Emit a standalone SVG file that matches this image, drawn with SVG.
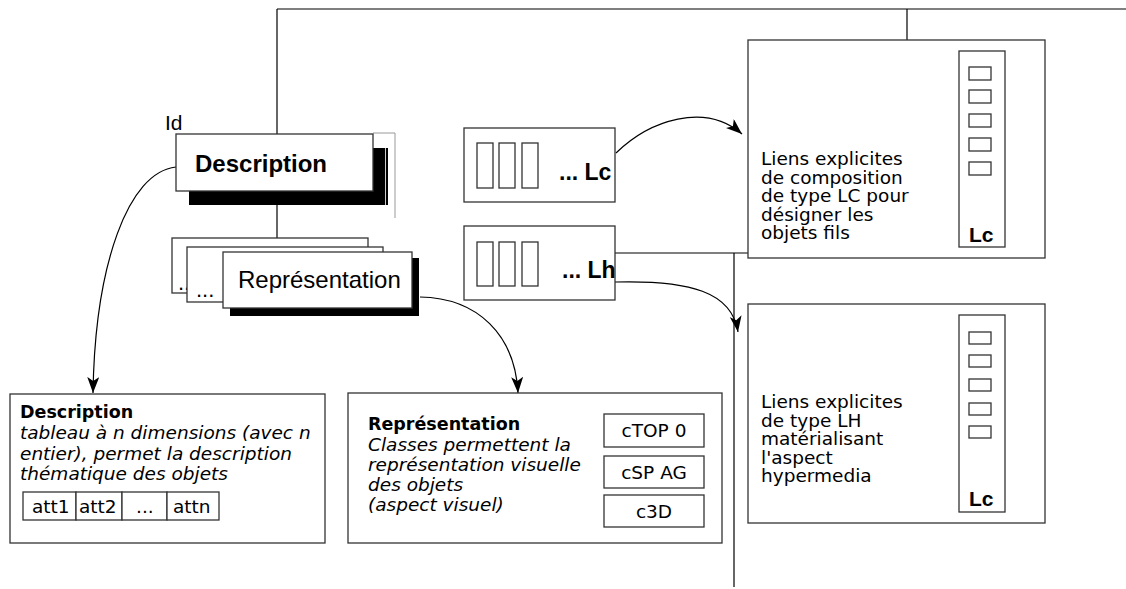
<svg xmlns="http://www.w3.org/2000/svg" width="1126" height="589" viewBox="0 0 1126 589">
<defs>
<marker id="ah" markerUnits="userSpaceOnUse" markerWidth="18" markerHeight="12" refX="16" refY="6" orient="auto"><path d="M0,0 L16,6 L0,12 L4,6 z" fill="#000"/></marker>
<style>
.box{fill:#fff;stroke:#333;stroke-width:1.3}
.ln{fill:none;stroke:#000;stroke-width:1.2}
.sh{fill:#000}
.big{font-family:"Liberation Sans",Arial,sans-serif;fill:#000}
.body{font-family:"DejaVu Sans",sans-serif;font-size:18.5px;fill:#000}
.it{font-style:italic}
.bd{font-weight:bold}
</style>
</defs>
<rect width="1126" height="589" fill="#fff"/>

<g id="connectors">
<path class="ln" d="M277,9 H1126"/>
<path class="ln" d="M277,9 V134"/>
<path class="ln" d="M277,205 V238"/>
<path class="ln" d="M907,9 V40"/>
<path class="ln" d="M615,253 H748"/>
<path class="ln" d="M734,253 V587"/>
<path class="ln" d="M616,153 C650,120 705,102 742,134" marker-end="url(#ah)"/>
<path class="ln" d="M615,282 C690,280 732,292 738,332" marker-end="url(#ah)"/>
<path class="ln" d="M176,167 C128,172 95,265 93,393" marker-end="url(#ah)"/>
<path class="ln" d="M420,297 C478,298 515,335 518,393" marker-end="url(#ah)"/>
</g>

<g id="node-description">
<path d="M373,133 H395 V218" fill="none" stroke="#999" stroke-width="1"/>
<rect class="sh" x="189" y="148" width="199" height="57"/>
<line x1="385.5" y1="148" x2="385.5" y2="205" stroke="#fff" stroke-width="0.8"/>
<rect class="box" x="176" y="134" width="197" height="57"/>
<text class="big bd" x="195" y="172" font-size="24">Description</text>
<text class="big" x="165" y="130" font-size="21">Id</text>
</g>

<g id="node-representation-stack">
<rect class="box" x="172" y="238" width="196" height="55"/>
<text class="big" x="178" y="290" font-size="22">...</text>
<rect class="box" x="187" y="247" width="196" height="55"/>
<text class="big" x="196" y="297" font-size="22">...</text>
<rect class="sh" x="230" y="258" width="189" height="58"/>
<rect class="box" x="223" y="252" width="189" height="56"/>
<text class="big" x="238" y="288" font-size="24">Représentation</text>
</g>

<g id="node-lc">
<rect class="box" x="464" y="128" width="151" height="74"/>
<rect class="box" x="477" y="143" width="16" height="45"/>
<rect class="box" x="499" y="143" width="16" height="45"/>
<rect class="box" x="522" y="143" width="16" height="45"/>
<text class="big bd" x="559" y="180" font-size="23">... Lc</text>
</g>

<g id="node-lh">
<rect class="box" x="464" y="226" width="151" height="74"/>
<rect class="box" x="477" y="242" width="16" height="44"/>
<rect class="box" x="499" y="242" width="16" height="44"/>
<rect class="box" x="522" y="242" width="16" height="44"/>
<text class="big bd" x="562" y="278" font-size="23">... Lh</text>
</g>

<g id="node-liens-lc">
<rect class="box" x="748" y="40" width="297" height="218"/>
<text class="body" x="761" y="165">Liens explicites</text>
<text class="body" x="761" y="183.5">de composition</text>
<text class="body" x="761" y="202">de type LC pour</text>
<text class="body" x="761" y="220.5">désigner les</text>
<text class="body" x="761" y="239">objets fils</text>
<rect class="box" x="959" y="51" width="46" height="196"/>
<rect class="box" x="969" y="67" width="22" height="13"/>
<rect class="box" x="969" y="90" width="22" height="13"/>
<rect class="box" x="969" y="114" width="22" height="13"/>
<rect class="box" x="969" y="138" width="22" height="13"/>
<rect class="box" x="969" y="162" width="22" height="13"/>
<text class="big bd" x="969" y="242" font-size="21">Lc</text>
</g>

<g id="node-liens-lh">
<rect class="box" x="748" y="304" width="297" height="219"/>
<text class="body" x="761" y="408">Liens explicites</text>
<text class="body" x="761" y="426.5">de type LH</text>
<text class="body" x="761" y="445">matérialisant</text>
<text class="body" x="761" y="463.5">l'aspect</text>
<text class="body" x="761" y="482">hypermedia</text>
<rect class="box" x="959" y="315" width="46" height="197"/>
<rect class="box" x="969" y="332" width="22" height="12"/>
<rect class="box" x="969" y="355" width="22" height="12"/>
<rect class="box" x="969" y="379" width="22" height="12"/>
<rect class="box" x="969" y="403" width="22" height="12"/>
<rect class="box" x="969" y="426" width="22" height="12"/>
<text class="big bd" x="969" y="506" font-size="21">Lc</text>
</g>

<g id="node-description-detail">
<rect class="box" x="10" y="394" width="315" height="149"/>
<text class="body bd" x="20" y="418" style="font-size:17.5px">Description</text>
<text class="body it" x="20" y="439">tableau à n dimensions (avec n</text>
<text class="body it" x="20" y="460">entier), permet la description</text>
<text class="body it" x="20" y="480">thématique des objets</text>
<rect class="box" x="23" y="492" width="53" height="28"/>
<rect class="box" x="76" y="492" width="46" height="28"/>
<rect class="box" x="122" y="492" width="45" height="28"/>
<rect class="box" x="167" y="492" width="52" height="28"/>
<text class="body" x="32" y="513">att1</text>
<text class="body" x="79" y="513">att2</text>
<text class="body" x="136" y="513">...</text>
<text class="body" x="173" y="513">attn</text>
</g>

<g id="node-representation-detail">
<rect class="box" x="348" y="393" width="374" height="150"/>
<text class="body bd" x="368" y="430" style="font-size:17.5px">Représentation</text>
<text class="body it" x="368" y="450.5">Classes permettent la</text>
<text class="body it" x="368" y="471">représentation visuelle</text>
<text class="body it" x="368" y="491">des objets</text>
<text class="body it" x="368" y="511">(aspect visuel)</text>
<rect class="box" x="604" y="414" width="100" height="33"/>
<rect class="box" x="604" y="456" width="100" height="32"/>
<rect class="box" x="604" y="495" width="100" height="32"/>
<text class="body" x="654" y="437" text-anchor="middle">cTOP 0</text>
<text class="body" x="654" y="479" text-anchor="middle">cSP AG</text>
<text class="body" x="654" y="518" text-anchor="middle">c3D</text>
</g>
</svg>
